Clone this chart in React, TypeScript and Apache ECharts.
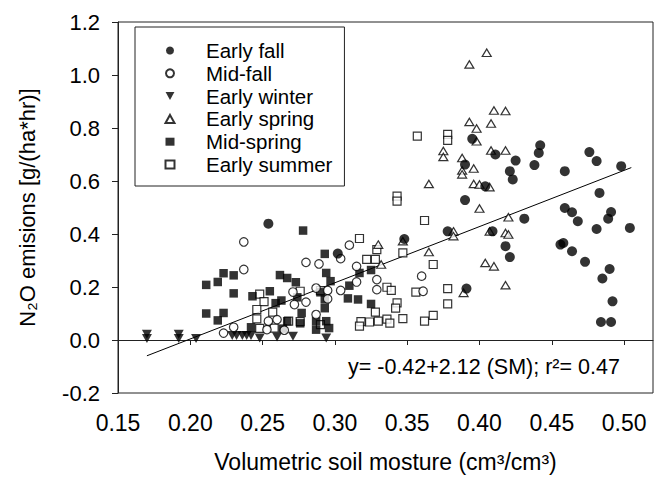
import React, { useEffect, useRef } from "react";
import * as echarts from "echarts";

const seriesNames = ["Early fall", "Mid-fall", "Early winter", "Early spring", "Mid-spring", "Early summer"];

const earlyFall = [[0.254,0.439],[0.395,0.759],[0.390,0.662],[0.411,0.700],[0.425,0.677],[0.421,0.637],[0.423,0.606],[0.442,0.735],[0.441,0.706],[0.438,0.660],[0.459,0.637],[0.476,0.709],[0.481,0.675],[0.498,0.656],[0.483,0.555],[0.390,0.528],[0.459,0.498],[0.464,0.482],[0.468,0.448],[0.431,0.458],[0.491,0.483],[0.489,0.458],[0.481,0.419],[0.504,0.423],[0.378,0.410],[0.409,0.410],[0.348,0.381],[0.418,0.354],[0.421,0.313],[0.456,0.360],[0.458,0.366],[0.464,0.335],[0.473,0.295],[0.490,0.268],[0.485,0.232],[0.492,0.146],[0.484,0.068],[0.491,0.068],[0.391,0.194],[0.302,0.326],[0.404,0.580]];

const midFall = [[0.237,0.370],[0.237,0.266],[0.223,0.026],[0.230,0.048],[0.280,0.293],[0.289,0.287],[0.304,0.307],[0.310,0.358],[0.315,0.278],[0.315,0.219],[0.304,0.187],[0.287,0.196],[0.295,0.187],[0.295,0.155],[0.280,0.143],[0.272,0.134],[0.271,0.181],[0.287,0.096],[0.254,0.071],[0.260,0.077],[0.253,0.039],[0.329,0.228],[0.329,0.190],[0.360,0.241],[0.361,0.184],[0.265,0.037]];

const earlyWinter = [[0.170,0.022],[0.170,0.006],[0.192,0.022],[0.192,0.006],[0.204,0.006],[0.229,0.017],[0.232,0.017],[0.236,0.017],[0.239,0.017],[0.242,0.017],[0.248,0.008],[0.260,0.011],[0.271,0.014],[0.294,0.008]];

const earlySpring = [[0.405,1.084],[0.393,1.040],[0.410,0.866],[0.418,0.864],[0.393,0.823],[0.398,0.798],[0.408,0.817],[0.398,0.750],[0.375,0.713],[0.375,0.691],[0.408,0.715],[0.418,0.715],[0.388,0.687],[0.396,0.647],[0.388,0.640],[0.388,0.625],[0.365,0.589],[0.396,0.589],[0.400,0.587],[0.407,0.577],[0.400,0.496],[0.420,0.463],[0.382,0.410],[0.382,0.392],[0.407,0.410],[0.418,0.404],[0.420,0.398],[0.330,0.360],[0.347,0.373],[0.365,0.332],[0.332,0.285],[0.389,0.178],[0.404,0.291],[0.410,0.278],[0.418,0.207]];

const midSpring = [[0.211,0.208],[0.219,0.219],[0.223,0.252],[0.230,0.244],[0.230,0.176],[0.211,0.100],[0.223,0.102],[0.219,0.074],[0.243,0.165],[0.278,0.413],[0.293,0.325],[0.262,0.245],[0.267,0.234],[0.273,0.218],[0.294,0.253],[0.297,0.222],[0.310,0.205],[0.317,0.253],[0.325,0.264],[0.255,0.184],[0.259,0.139],[0.263,0.149],[0.274,0.161],[0.290,0.180],[0.293,0.153],[0.293,0.120],[0.277,0.102],[0.309,0.157],[0.316,0.153],[0.325,0.136],[0.242,0.048],[0.264,0.043],[0.287,0.071],[0.294,0.071],[0.287,0.039],[0.296,0.045],[0.267,0.071],[0.276,0.063]];

const earlySummer = [[0.357,0.769],[0.378,0.776],[0.378,0.753],[0.343,0.543],[0.343,0.524],[0.362,0.451],[0.317,0.383],[0.329,0.341],[0.347,0.329],[0.368,0.285],[0.322,0.304],[0.328,0.304],[0.336,0.199],[0.339,0.187],[0.356,0.181],[0.378,0.194],[0.378,0.136],[0.343,0.140],[0.342,0.120],[0.328,0.105],[0.318,0.069],[0.324,0.068],[0.330,0.071],[0.336,0.079],[0.338,0.064],[0.347,0.081],[0.362,0.071],[0.368,0.093],[0.317,0.052],[0.248,0.173],[0.251,0.145],[0.246,0.115],[0.257,0.105],[0.246,0.080],[0.248,0.044],[0.258,0.045],[0.276,0.184],[0.290,0.186],[0.276,0.069],[0.290,0.058],[0.268,0.071]];

const xTicks = [0.15, 0.2, 0.25, 0.3, 0.35, 0.4, 0.45, 0.5];
const yTicks = [-0.2, 0, 0.2, 0.4, 0.6, 0.8, 1.0, 1.2];

const fitIntercept = -0.42;
const fitSlope = 2.12;
const fitR2 = 0.47;
const fitRange = [0.17, 0.505];

const FONT = "Liberation Sans, Arial, sans-serif";
const INK = "#000";
const DOWN_TRI = "path://M0,0L10,0L5,9Z";

export default function App() {
  const ref = useRef<HTMLDivElement>(null);
  useEffect(() => {
    const chart = echarts.init(ref.current!, null, { renderer: "svg" });
    const filled = { color: INK, borderColor: INK, borderWidth: 0 };
    const open = { color: "#fff", borderColor: INK, borderWidth: 1.2 };
    const fitLine = fitRange.map((x) => [x, fitIntercept + fitSlope * x]);
    chart.setOption({
      animation: false,
      backgroundColor: "#fff",
      textStyle: { fontFamily: FONT, color: INK },
      grid: { left: 118, right: 7, top: 22, bottom: 86, show: true, borderColor: "#222", borderWidth: 1 },
      legend: {
        data: seriesNames,
        orient: "vertical",
        left: 135,
        top: 27,
        padding: [13, 12, 11, 29.5],
        itemWidth: 9,
        itemHeight: 8,
        itemGap: 1.8,
        symbolKeepAspect: true,
        borderColor: "#222",
        borderWidth: 1,
        textStyle: { fontFamily: FONT, fontSize: 20.5, color: INK, lineHeight: 20, padding: [0, 0, 0, 26.5] },
        selectedMode: false,
      },
      xAxis: {
        type: "value",
        min: 0.15,
        max: 0.52,
        interval: 0.05,
        name: "Volumetric soil mosture (cm³/cm³)",
        nameLocation: "middle",
        nameGap: 57,
        nameTextStyle: { fontFamily: FONT, fontSize: 23, color: INK },
        axisLine: { lineStyle: { color: "#222", width: 1 } },
        axisTick: { length: 5, lineStyle: { color: "#222" }, customValues: xTicks },
        axisLabel: {
          customValues: xTicks,
          formatter: (v: number) => v.toFixed(2),
          fontFamily: FONT,
          fontSize: 23,
          color: INK,
          margin: 18,
        },
        splitLine: { show: false },
      },
      yAxis: {
        type: "value",
        min: -0.2,
        max: 1.2,
        interval: 0.2,
        name: "N₂O emisions [g/(ha*hr)]",
        nameLocation: "middle",
        nameGap: 80,
        nameTextStyle: { fontFamily: FONT, fontSize: 22, color: INK },
        axisLine: { lineStyle: { color: "#222", width: 1 } },
        axisTick: { length: 6, lineStyle: { color: "#222" }, customValues: yTicks },
        axisLabel: {
          customValues: yTicks,
          formatter: (v: number) => v.toFixed(1),
          fontFamily: FONT,
          fontSize: 22,
          color: INK,
          margin: 18,
        },
        splitLine: { show: false },
      },
      graphic: [
        {
          type: "text",
          left: 348,
          top: 356,
          style: {
            text: `y= ${fitIntercept.toFixed(2)}+${fitSlope.toFixed(2)} (SM); r²= ${fitR2.toFixed(2)}`,
            fontFamily: FONT,
            fontSize: 21.5,
            fill: INK,
          },
        },
      ],
      series: [
        { name: "Regression", type: "line", data: fitLine, symbol: "none", lineStyle: { color: INK, width: 1 }, z: 1 },
        { name: seriesNames[5], type: "scatter", data: earlySummer, symbol: "rect", symbolSize: 8, itemStyle: open, z: 2 },
        { name: seriesNames[4], type: "scatter", data: midSpring, symbol: "rect", symbolSize: 8.5, itemStyle: filled, z: 2 },
        { name: seriesNames[3], type: "scatter", data: earlySpring, symbol: "triangle", symbolSize: [9, 7.5], itemStyle: open, z: 3 },
        { name: seriesNames[2], type: "scatter", data: earlyWinter, symbol: DOWN_TRI, symbolSize: [10, 9], itemStyle: filled, z: 3 },
        { name: seriesNames[1], type: "scatter", data: midFall, symbol: "circle", symbolSize: 8.5, itemStyle: open, z: 3 },
        { name: seriesNames[0], type: "scatter", data: earlyFall, symbol: "circle", symbolSize: 10, itemStyle: filled, z: 4 },
      ],
    });
    return () => chart.dispose();
  }, []);
  return <div ref={ref} style={{ position: "fixed", left: 0, top: 0, width: 660, height: 479 }} />;
}
